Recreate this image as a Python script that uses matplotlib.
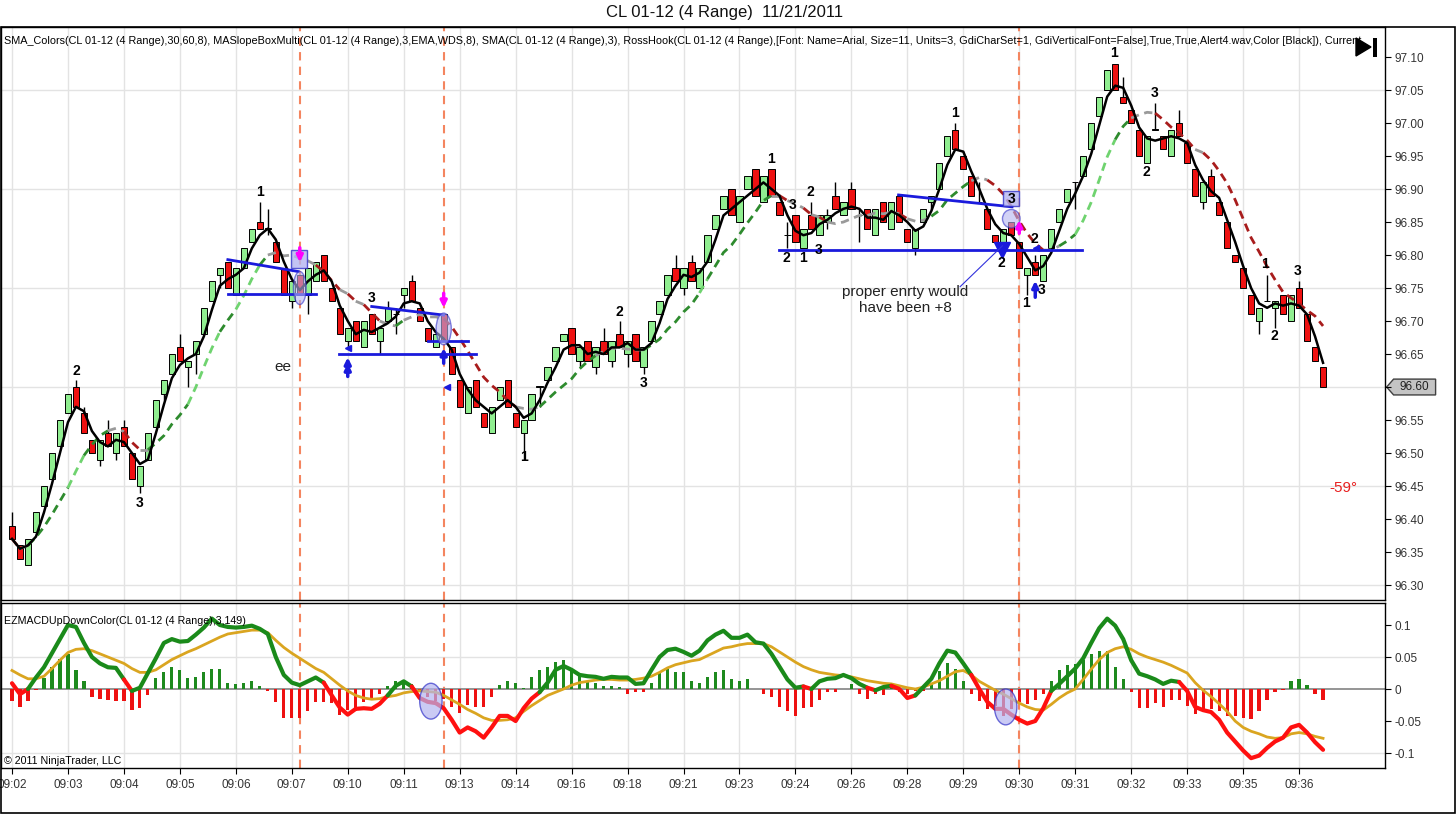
import numpy as np
import pandas as pd
import matplotlib
matplotlib.use("Agg")
import matplotlib.pyplot as plt
from matplotlib.patches import Ellipse, Rectangle, Polygon
from matplotlib.transforms import blended_transform_factory

plt.rcParams['font.family'] = ['Liberation Sans', 'DejaVu Sans']

# ---- price bars (CL 01-12, 4 range) ----
opens = [96.39, 96.36, 96.33, 96.38, 96.42, 96.46, 96.51, 96.56, 96.60, 96.56,
         96.52, 96.49, 96.53, 96.50, 96.54, 96.50, 96.45, 96.49, 96.54, 96.59,
         96.62, 96.66, 96.63, 96.65, 96.68, 96.73, 96.77, 96.79, 96.74, 96.78,
         96.82, 96.85, 96.84, 96.82, 96.78, 96.73, 96.77, 96.74, 96.76, 96.80,
         96.75, 96.72, 96.67, 96.70, 96.66, 96.71, 96.67, 96.70, 96.71, 96.74,
         96.76, 96.72, 96.69, 96.66, 96.71, 96.66, 96.61, 96.56, 96.61, 96.56,
         96.53, 96.58, 96.61, 96.56, 96.53, 96.55, 96.60, 96.61, 96.64, 96.67,
         96.69, 96.64, 96.67, 96.63, 96.67, 96.64, 96.68, 96.65, 96.68, 96.63,
         96.67, 96.71, 96.74, 96.78, 96.75, 96.79, 96.75, 96.79, 96.84, 96.87,
         96.90, 96.85, 96.90, 96.93, 96.88, 96.93, 96.88, 96.83, 96.86, 96.81,
         96.86, 96.83, 96.85, 96.89, 96.86, 96.90, 96.86, 96.87, 96.83, 96.88,
         96.84, 96.89, 96.84, 96.81, 96.85, 96.88, 96.90, 96.95, 96.99, 96.95,
         96.92, 96.88, 96.87, 96.83, 96.82, 96.85, 96.82, 96.77, 96.79, 96.76,
         96.81, 96.85, 96.88, 96.91, 96.92, 96.96, 97.01, 97.05, 97.09, 97.04,
         97.02, 96.99, 96.94, 96.99, 96.98, 96.95, 97.00, 96.97, 96.93, 96.88,
         96.92, 96.88, 96.85, 96.80, 96.78, 96.74, 96.70, 96.73, 96.72, 96.74,
         96.70, 96.75, 96.71, 96.66, 96.63]
highs = [96.41, 96.36, 96.37, 96.41, 96.45, 96.50, 96.55, 96.59, 96.61, 96.57,
         96.52, 96.52, 96.55, 96.53, 96.55, 96.50, 96.48, 96.53, 96.58, 96.61,
         96.65, 96.68, 96.64, 96.67, 96.72, 96.76, 96.78, 96.79, 96.78, 96.81,
         96.84, 96.88, 96.87, 96.82, 96.78, 96.76, 96.77, 96.78, 96.79, 96.80,
         96.75, 96.72, 96.69, 96.70, 96.70, 96.71, 96.69, 96.73, 96.72, 96.75,
         96.77, 96.72, 96.69, 96.68, 96.71, 96.66, 96.61, 96.60, 96.61, 96.56,
         96.57, 96.60, 96.61, 96.56, 96.55, 96.59, 96.60, 96.63, 96.66, 96.68,
         96.69, 96.66, 96.67, 96.66, 96.69, 96.67, 96.70, 96.67, 96.68, 96.66,
         96.70, 96.73, 96.77, 96.80, 96.78, 96.80, 96.78, 96.83, 96.86, 96.89,
         96.90, 96.89, 96.92, 96.93, 96.92, 96.93, 96.88, 96.85, 96.86, 96.84,
         96.88, 96.86, 96.87, 96.91, 96.88, 96.91, 96.87, 96.87, 96.87, 96.88,
         96.88, 96.89, 96.84, 96.84, 96.87, 96.89, 96.94, 96.98, 97.00, 96.95,
         96.92, 96.91, 96.87, 96.83, 96.84, 96.85, 96.82, 96.78, 96.80, 96.80,
         96.84, 96.87, 96.90, 96.91, 96.95, 97.00, 97.04, 97.08, 97.09, 97.07,
         97.02, 96.99, 96.98, 97.03, 96.98, 96.99, 97.02, 96.97, 96.93, 96.91,
         96.93, 96.88, 96.85, 96.80, 96.78, 96.74, 96.72, 96.77, 96.73, 96.74,
         96.74, 96.76, 96.71, 96.66, 96.63]
lows = [96.37, 96.34, 96.33, 96.38, 96.42, 96.46, 96.51, 96.56, 96.57, 96.53,
        96.50, 96.48, 96.51, 96.49, 96.51, 96.46, 96.44, 96.49, 96.54, 96.58,
        96.62, 96.64, 96.60, 96.62, 96.68, 96.73, 96.75, 96.75, 96.74, 96.78,
        96.82, 96.84, 96.83, 96.79, 96.74, 96.72, 96.74, 96.71, 96.76, 96.76,
        96.73, 96.68, 96.66, 96.67, 96.66, 96.68, 96.65, 96.70, 96.68, 96.72,
        96.73, 96.70, 96.67, 96.66, 96.67, 96.62, 96.57, 96.56, 96.57, 96.54,
        96.53, 96.58, 96.57, 96.54, 96.49, 96.55, 96.57, 96.61, 96.64, 96.67,
        96.65, 96.63, 96.64, 96.62, 96.65, 96.63, 96.66, 96.63, 96.64, 96.62,
        96.67, 96.71, 96.74, 96.76, 96.74, 96.76, 96.75, 96.79, 96.84, 96.87,
        96.86, 96.85, 96.90, 96.89, 96.88, 96.89, 96.86, 96.81, 96.82, 96.81,
        96.84, 96.83, 96.84, 96.87, 96.86, 96.87, 96.82, 96.84, 96.83, 96.85,
        96.84, 96.85, 96.82, 96.80, 96.85, 96.87, 96.90, 96.95, 96.96, 96.93,
        96.89, 96.88, 96.84, 96.82, 96.82, 96.83, 96.78, 96.74, 96.77, 96.76,
        96.81, 96.85, 96.88, 96.87, 96.92, 96.96, 97.01, 97.05, 97.05, 97.03,
        97.00, 96.95, 96.94, 96.99, 96.96, 96.95, 96.98, 96.94, 96.89, 96.87,
        96.89, 96.86, 96.81, 96.79, 96.75, 96.71, 96.68, 96.73, 96.69, 96.71,
        96.70, 96.72, 96.67, 96.64, 96.60]
closes = [96.37, 96.34, 96.37, 96.41, 96.45, 96.50, 96.55, 96.59, 96.57, 96.53,
          96.50, 96.52, 96.51, 96.53, 96.51, 96.46, 96.48, 96.53, 96.58, 96.61,
          96.65, 96.64, 96.64, 96.67, 96.72, 96.76, 96.78, 96.75, 96.78, 96.81,
          96.84, 96.84, 96.84, 96.79, 96.74, 96.76, 96.74, 96.78, 96.79, 96.76,
          96.73, 96.68, 96.69, 96.67, 96.70, 96.68, 96.69, 96.72, 96.71, 96.75,
          96.73, 96.70, 96.67, 96.68, 96.67, 96.62, 96.57, 96.60, 96.57, 96.54,
          96.57, 96.60, 96.57, 96.54, 96.55, 96.59, 96.60, 96.63, 96.66, 96.68,
          96.65, 96.66, 96.64, 96.66, 96.65, 96.67, 96.66, 96.67, 96.64, 96.66,
          96.70, 96.73, 96.77, 96.76, 96.78, 96.76, 96.78, 96.83, 96.86, 96.89,
          96.86, 96.89, 96.92, 96.89, 96.92, 96.89, 96.86, 96.83, 96.82, 96.84,
          96.84, 96.86, 96.86, 96.87, 96.88, 96.87, 96.86, 96.84, 96.87, 96.85,
          96.88, 96.85, 96.82, 96.84, 96.87, 96.89, 96.94, 96.98, 96.96, 96.93,
          96.89, 96.88, 96.84, 96.82, 96.84, 96.83, 96.78, 96.78, 96.77, 96.80,
          96.84, 96.87, 96.90, 96.91, 96.95, 97.00, 97.04, 97.08, 97.05, 97.03,
          97.00, 96.95, 96.98, 96.99, 96.96, 96.99, 96.98, 96.94, 96.89, 96.91,
          96.89, 96.86, 96.81, 96.79, 96.75, 96.71, 96.72, 96.73, 96.73, 96.71,
          96.74, 96.72, 96.67, 96.64, 96.60]

# ---- EZMACDUpDownColor(3,149) panel ----
macd = [0.009, -0.008, 0.000, 0.018, 0.034, 0.056, 0.078, 0.100, 0.097, 0.072,
        0.050, 0.040, 0.034, 0.033, 0.015, -0.003, 0.002, 0.025, 0.048, 0.072,
        0.078, 0.074, 0.075, 0.085, 0.096, 0.110, 0.100, 0.097, 0.096, 0.097,
        0.099, 0.094, 0.086, 0.050, 0.022, 0.010, 0.006, 0.012, 0.018, 0.010,
        -0.010, -0.029, -0.040, -0.031, -0.030, -0.031, -0.023, -0.010, 0.005, 0.012,
        0.004, -0.014, -0.020, -0.022, -0.030, -0.048, -0.068, -0.060, -0.066, -0.076,
        -0.060, -0.042, -0.042, -0.050, -0.030, -0.015, -0.005, 0.010, 0.030, 0.036,
        0.030, 0.022, 0.020, 0.019, 0.016, 0.019, 0.018, 0.018, 0.008, 0.009,
        0.030, 0.050, 0.061, 0.063, 0.058, 0.052, 0.060, 0.076, 0.085, 0.091,
        0.080, 0.080, 0.085, 0.073, 0.071, 0.055, 0.035, 0.015, 0.002, 0.004,
        0.000, 0.012, 0.016, 0.017, 0.022, 0.017, 0.008, 0.002, -0.002, 0.003,
        0.005, 0.000, -0.014, -0.010, 0.003, 0.016, 0.040, 0.060, 0.057, 0.040,
        0.022, 0.000, -0.020, -0.031, -0.031, -0.040, -0.048, -0.054, -0.050, -0.030,
        -0.003, 0.008, 0.020, 0.032, 0.048, 0.072, 0.095, 0.110, 0.099, 0.078,
        0.045, 0.024, 0.020, 0.015, 0.008, 0.013, 0.011, -0.003, -0.028, -0.033,
        -0.036, -0.048, -0.068, -0.082, -0.096, -0.108, -0.104, -0.092, -0.082, -0.076,
        -0.060, -0.056, -0.068, -0.083, -0.095]
signal = [0.029, 0.022, 0.016, 0.016, 0.020, 0.032, 0.045, 0.057, 0.062, 0.063,
          0.060, 0.055, 0.050, 0.045, 0.040, 0.032, 0.026, 0.026, 0.030, 0.038,
          0.046, 0.052, 0.058, 0.063, 0.069, 0.075, 0.081, 0.086, 0.088, 0.090,
          0.092, 0.092, 0.088, 0.076, 0.065, 0.056, 0.048, 0.040, 0.032, 0.026,
          0.016, 0.006, -0.003, -0.010, -0.014, -0.016, -0.015, -0.012, -0.010, -0.006,
          -0.004, -0.003, -0.004, -0.005, -0.010, -0.017, -0.024, -0.032, -0.038, -0.045,
          -0.049, -0.049, -0.048, -0.045, -0.035, -0.026, -0.018, -0.010, -0.005, 0.000,
          0.006, 0.010, 0.012, 0.014, 0.015, 0.015, 0.014, 0.014, 0.015, 0.017,
          0.020, 0.026, 0.033, 0.038, 0.041, 0.044, 0.046, 0.052, 0.058, 0.064,
          0.066, 0.069, 0.071, 0.071, 0.071, 0.066, 0.058, 0.050, 0.042, 0.035,
          0.030, 0.026, 0.024, 0.022, 0.021, 0.019, 0.016, 0.013, 0.011, 0.009,
          0.008, 0.005, 0.002, 0.000, 0.003, 0.008, 0.013, 0.020, 0.027, 0.029,
          0.022, 0.012, 0.005, -0.002, -0.008, -0.015, -0.022, -0.028, -0.032, -0.033,
          -0.024, -0.014, -0.006, 0.000, 0.015, 0.031, 0.046, 0.057, 0.063, 0.066,
          0.062, 0.055, 0.050, 0.046, 0.042, 0.037, 0.031, 0.025, 0.010, -0.002,
          -0.012, -0.023, -0.035, -0.050, -0.060, -0.066, -0.070, -0.075, -0.077, -0.076,
          -0.070, -0.068, -0.070, -0.074, -0.077]
hist = [-0.018, -0.028, -0.018, -0.002, 0.017, 0.034, 0.047, 0.055, 0.030, 0.012,
        -0.012, -0.015, -0.017, -0.018, -0.019, -0.033, -0.029, -0.010, 0.017, 0.026,
        0.034, 0.030, 0.017, 0.018, 0.026, 0.032, 0.032, 0.010, 0.008, 0.010,
        0.012, 0.005, -0.003, -0.020, -0.046, -0.045, -0.045, -0.035, -0.020, -0.020,
        -0.022, -0.040, -0.033, -0.035, -0.020, -0.015, -0.008, 0.004, 0.012, 0.012,
        0.008, -0.003, -0.012, -0.018, -0.015, -0.028, -0.037, -0.025, -0.028, -0.028,
        -0.012, 0.006, 0.013, 0.010, 0.002, 0.018, 0.029, 0.035, 0.042, 0.045,
        0.031, 0.022, 0.013, 0.010, 0.005, 0.005, 0.003, -0.008, -0.004, -0.004,
        0.010, 0.026, 0.031, 0.026, 0.026, 0.012, 0.009, 0.019, 0.026, 0.030,
        0.015, 0.012, 0.015, 0.000, -0.008, -0.012, -0.028, -0.034, -0.042, -0.030,
        -0.028, -0.017, -0.005, -0.004, 0.000, 0.008, -0.008, -0.016, -0.008, -0.010,
        0.008, -0.004, -0.007, -0.003, -0.003, 0.010, 0.028, 0.040, 0.031, 0.013,
        -0.008, -0.018, -0.031, -0.026, -0.042, -0.031, -0.021, -0.023, -0.017, -0.007,
        0.013, 0.029, 0.038, 0.039, 0.045, 0.054, 0.059, 0.060, 0.034, 0.016,
        -0.005, -0.030, -0.029, -0.022, -0.028, -0.017, -0.017, -0.026, -0.039, -0.035,
        -0.031, -0.034, -0.042, -0.042, -0.045, -0.047, -0.034, -0.017, -0.004, -0.002,
        0.013, 0.015, 0.007, -0.008, -0.017]

time_labels = ["09:02", "09:03", "09:04", "09:05", "09:06", "09:07", "09:10", "09:11",
               "09:13", "09:14", "09:16", "09:18", "09:21", "09:23", "09:24", "09:26",
               "09:28", "09:29", "09:30", "09:31", "09:32", "09:33", "09:35", "09:36"]
label_every = 7
signal_bars = [36, 54, 126]

# RossHook swing labels
swing_bars = [8, 16, 31, 45, 64, 76, 79, 95, 97.7, 99.9, 96.9, 98.9, 100.9,
              118, 127.9, 123.8, 126.9, 128.8, 137.9, 142.9, 141.9, 156.8, 157.9, 160.8]
swing_prices = [96.624, 96.424, 96.895, 96.735, 96.494, 96.714, 96.606, 96.946, 96.876,
                96.896, 96.795, 96.795, 96.808, 97.015, 96.824, 96.788, 96.727, 96.747,
                97.106, 97.046, 96.926, 96.787, 96.677, 96.776]
swing_texts = ["2", "3", "1", "3", "1", "2", "3", "1", "3", "2", "2", "1", "3",
               "1", "2", "2", "1", "3", "1", "3", "2", "1", "2", "3"]

# hook trend lines: (bar0, price0, bar1, price1)
hook_lines = [(27, 96.793, 35.8, 96.775), (27, 96.741, 38, 96.741),
              (45, 96.722, 54, 96.709), (40.9, 96.650, 58, 96.650),
              (52, 96.669, 57, 96.669), (110.9, 96.891, 125.1, 96.873),
              (95.9, 96.808, 133.9, 96.808)]

x = np.arange(len(closes))
o, h, l, c = map(np.array, (opens, highs, lows, closes))
assert len(o) == len(h) == len(l) == len(c) == len(macd) == len(signal) == len(hist)

W, H = 1456, 814
fig = plt.figure(figsize=(W / 100, H / 100), dpi=100)
fig.patch.set_facecolor('white')

def fig_box(left, top, right, bottom):
    return [left / W, 1 - bottom / H, (right - left) / W, (bottom - top) / H]

ax = fig.add_axes(fig_box(1, 27, 1384.6, 600))
ax2 = fig.add_axes(fig_box(1, 603, 1384.6, 768))

xlim = (-1.375, 171.7)
grid_c = '#e3e3e3'
for a in (ax, ax2):
    a.set_xlim(*xlim)
    for s in a.spines.values():
        s.set_color('black')
        s.set_linewidth(1)
    for k in range(0, len(x), label_every):
        a.axvline(k, color=grid_c, lw=1, zorder=0)

# ---- price panel ----
ax.set_ylim(96.2773, 97.1455)
for gy in np.arange(96.30, 97.11, 0.15):
    ax.axhline(gy, color=grid_c, lw=1, zorder=0)

ax.vlines(x, l, h, color='black', lw=1, zorder=2)
body_col = np.where(c > o, '#90ee90', np.where(c < o, '#ee1111', 'black'))
body_h = np.where(np.abs(c - o) < 1e-9, 0.0008, np.abs(c - o))
ax.bar(x, body_h, bottom=np.minimum(o, c), width=0.78, color=body_col,
       edgecolor='black', linewidth=0.7, zorder=2.5)

# SMA_Colors (period 8, colour by slope angle)
sma8 = pd.Series(closes).rolling(8, min_periods=1).mean().to_numpy()
angles = np.degrees(np.arctan(np.diff(sma8) * 660 / 8))

def slope_color(a):
    if a > 60:
        return '#6fd36f'
    if a > 30:
        return '#2e8b2e'
    if a < -30:
        return '#a81c1c'
    return '#9a9a9a'

seg_cols = [slope_color(a) for a in angles]
start = 0
for k in range(1, len(seg_cols) + 1):
    if k == len(seg_cols) or seg_cols[k] != seg_cols[start]:
        ax.plot(x[start:k + 1], sma8[start:k + 1], color=seg_cols[start], lw=2,
                ls=(0, (3, 2)), zorder=3)
        start = k

sma3 = pd.Series(closes).rolling(3, min_periods=1).mean().to_numpy()
ax.plot(x, sma3, color='black', lw=1.8, zorder=3.5)

# hook lines, boxes, ellipses, arrows
for b0, p0, b1, p1 in hook_lines:
    ax.plot([b0, b1], [p0, p1], color='#1a1adc', lw=2, zorder=4)

box_fc, box_ec = '#b4b4f0', '#3232c8'
ax.add_patch(Rectangle((34.9, 96.780), 2.06, 0.028, fc=box_fc, ec=box_ec, lw=1, alpha=0.8, zorder=4))
ax.add_patch(Rectangle((124.0, 96.874), 2.0, 0.023, fc=box_fc, ec=box_ec, lw=1, alpha=0.8, zorder=4))
ax.text(125.0, 96.8855, "3", ha='center', va='center', fontsize=10, fontweight='bold', zorder=5)
for (ex, ey, ew, eh) in [(36, 96.750, 1.6, 0.050), (54, 96.688, 1.9, 0.048), (125, 96.855, 2.2, 0.028)]:
    ax.add_patch(Ellipse((ex, ey), ew, eh, fc=box_fc, ec=box_ec, lw=1, alpha=0.6, zorder=4))

def arrow(a, bx, y0, y1, col):
    a.annotate('', xy=(bx, y1), xytext=(bx, y0), zorder=5,
               arrowprops=dict(arrowstyle='-|>', color=col, lw=2.5, mutation_scale=9,
                               shrinkA=0, shrinkB=0))

arrow(ax, 36, 96.811, 96.789, '#ff00ff')
arrow(ax, 54, 96.742, 96.720, '#ff00ff')
arrow(ax, 126, 96.833, 96.853, '#ff00ff')
arrow(ax, 42, 96.616, 96.636, '#1a1adc')
arrow(ax, 42, 96.628, 96.645, '#1a1adc')
arrow(ax, 54, 96.636, 96.659, '#1a1adc')
arrow(ax, 128, 96.736, 96.761, '#1a1adc')
ax.plot([42, 54.4, 128.1], [96.659, 96.600, 96.811], marker='<', ls='none', ms=5,
        color='#1a1adc', zorder=5)
ax.plot([123.9], [96.808], marker='v', ls='none', ms=11, color='#1a1adc', zorder=5)

for bx, py, t in zip(swing_bars, swing_prices, swing_texts):
    ax.text(bx, py, t, ha='center', va='center', fontsize=10, fontweight='bold', zorder=6)

for sb in signal_bars:
    for a in (ax, ax2):
        a.axvline(sb, color='#f4855f', lw=1.5, ls=(0, (4, 3)), zorder=1)

ax.text(33.9, 96.630, "ee", ha='center', va='center', fontsize=11, color='#222222')
ax.text(111.75, 96.732, "proper enrty would\nhave been +8", ha='center', va='center',
        fontsize=11, color='#222222', linespacing=1.15, zorder=6)
ax.plot([118.6, 123.9], [96.752, 96.814], color='#3232dc', lw=0.8, zorder=5)
ax.text(166.5, 96.447, "-59\u00b0", ha='center', va='center', fontsize=11, color='#e82020')

# last price tag replaces the tick label at that level
last = closes[-1]
price_ticks = np.round(np.arange(96.30, 97.101, 0.05), 2)
ax.set_xticks([])
ax.yaxis.tick_right()
ax.set_yticks(price_ticks)
ax.set_yticklabels(["" if abs(v - last) < 1e-6 else f"{v:.2f}" for v in price_ticks])
ax.tick_params(axis='y', direction='out', length=4, labelsize=8.5, pad=3,
               labelcolor='#333333')

ax.text(0.002, 0.9756, "SMA_Colors(CL 01-12 (4 Range),30,60,8), MASlopeBoxMulti(CL 01-12 (4 Range),3,EMA,WDS,8), "
        "SMA(CL 01-12 (4 Range),3), RossHook(CL 01-12 (4 Range),[Font: Name=Arial, Size=11, Units=3, "
        "GdiCharSet=1, GdiVerticalFont=False],True,True,Alert4.wav,Color [Black]), Current",
        transform=ax.transAxes, ha='left', va='center', fontsize=7.85, clip_on=True,
        family=['Liberation Sans Narrow', 'Liberation Sans', 'DejaVu Sans'], zorder=7)

tr = blended_transform_factory(ax.transAxes, ax.transData)
px = 1 / 1383.6
ax.add_patch(Polygon([(1 + 2 * px, last), (1 + 9 * px, last + 0.012), (1 + 51 * px, last + 0.012),
                      (1 + 51 * px, last - 0.012), (1 + 9 * px, last - 0.012)], closed=True,
                     transform=tr, clip_on=False, fc='#c4c4c4', ec='#404040', lw=1))
ax.text(1 + 30 * px, last, f"{last:.2f}", transform=tr, ha='center', va='center',
        fontsize=8.5, color='#222222', clip_on=False)

# ---- MACD panel ----
ax2.set_ylim(-0.1234, 0.1344)
for gy in (0.05, -0.10):
    ax2.axhline(gy, color=grid_c, lw=1, zorder=0)
ax2.axhline(0, color='#8c8c8c', lw=1.3, zorder=1)
hcols = np.where(np.array(hist) >= 0, '#1e8a1e', '#ee1111')
ax2.bar(x, hist, width=0.4, color=hcols, zorder=2)
ax2.plot(x, signal, color='#daa520', lw=2, zorder=3)
mcols = ['#1a8a1a' if v > 0 else '#ff1010' for v in macd[1:]]
start = 0
for k in range(1, len(mcols) + 1):
    if k == len(mcols) or mcols[k] != mcols[start]:
        ax2.plot(x[start:k + 1], macd[start:k + 1], color=mcols[start], lw=3,
                 solid_capstyle='round', zorder=4)
        start = k
for (ex, ey) in [(52.4, -0.019), (124.3, -0.028)]:
    ax2.add_patch(Ellipse((ex, ey), 2.8, 0.056, fc='#b4b4f0', ec='#3232c8', lw=1, alpha=0.7, zorder=5))

ax2.yaxis.tick_right()
ax2.set_yticks([0.1, 0.05, 0, -0.05, -0.1])
ax2.set_yticklabels(["0.1", "0.05", "0", "-0.05", "-0.1"])
ax2.tick_params(axis='y', direction='out', length=4, labelsize=8.5, pad=3, labelcolor='#333333')
ax2.set_xticks(np.arange(0, len(x), label_every))
ax2.set_xticklabels(time_labels)
ax2.tick_params(axis='x', direction='out', length=4, labelsize=8.5, pad=4, labelcolor='#333333')
ax2.text(0.002, 0.89, "EZMACDUpDownColor(CL 01-12 (4 Range),3,149)", transform=ax2.transAxes,
         ha='left', va='center', fontsize=7.7, zorder=7)
ax2.text(0.002, 0.01, "\u00a9 2011 NinjaTrader, LLC", transform=ax2.transAxes,
         ha='left', va='bottom', fontsize=7.7, zorder=7)

# ---- frame, title, icon ----
fig.patches.append(Rectangle((1 / W, 1 / H), 1 - 2 / W, 1 - 28 / H, transform=fig.transFigure,
                             fill=False, ec='black', lw=1.2))
fig.text(725 / W, 1 - 13 / H, "CL 01-12 (4 Range)  11/21/2011", ha='center', va='center',
         fontsize=12, color='#111111')
fig.patches.append(Polygon([(1356 / W, 1 - 38 / H), (1356 / W, 1 - 56 / H), (1371 / W, 1 - 47 / H)],
                           closed=True, transform=fig.transFigure, fc='black', ec='black'))
fig.patches.append(Rectangle((1373 / W, 1 - 57 / H), 4 / W, 19 / H, transform=fig.transFigure,
                             fc='black', ec='none'))

fig.savefig("out.png", dpi=100)
